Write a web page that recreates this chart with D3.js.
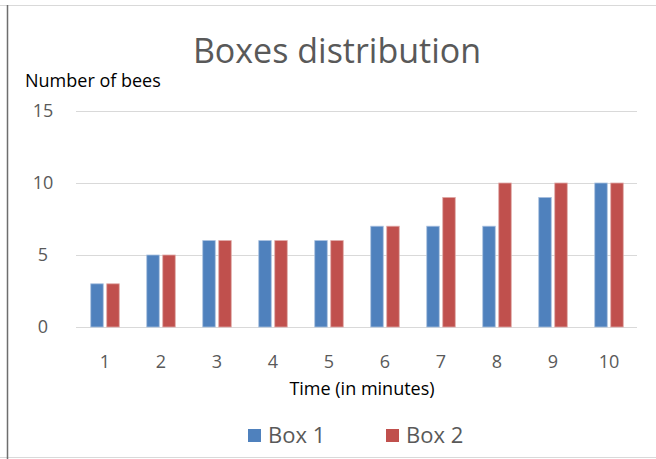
<!DOCTYPE html>
<html>
<head>
<meta charset="utf-8">
<script src="https://cdn.jsdelivr.net/npm/d3@7"></script>
<style>
  body { margin: 0; background: #fff; }
  svg { font-family: "Open Sans", "Liberation Sans", sans-serif; }
</style>
</head>
<body>
<svg id="chart" width="656" height="459"></svg>
<script>
var times = ["1", "2", "3", "4", "5", "6", "7", "8", "9", "10"]
var box1 = [3, 5, 6, 6, 6, 7, 7, 7, 9, 10]
var box2 = [3, 5, 6, 6, 6, 7, 9, 10, 10, 10]
var yTicks = [0, 5, 10, 15]
var seriesNames = ["Box 1", "Box 2"]
var colors = ["#4f81bd", "#c0504d"]

var svg = d3.select("svg"),
    margin = {top: 111, right: 19, bottom: 132, left: 76},
    width = 656 - margin.left - margin.right,
    height = 459 - margin.top - margin.bottom

// frame
svg.append("line").attr("x1", 0).attr("x2", 656).attr("y1", 5.5).attr("y2", 5.5)
  .attr("stroke", "#d9d9d9")
svg.append("line").attr("x1", 0).attr("x2", 656).attr("y1", 457.5).attr("y2", 457.5)
  .attr("stroke", "#d9d9d9")
svg.append("line").attr("x1", 7.5).attr("x2", 7.5).attr("y1", 5).attr("y2", 459)
  .attr("stroke", "#6e6e6e").attr("stroke-width", 1.5)

var g = svg.append("g").attr("transform", "translate(" + margin.left + "," + margin.top + ")")

var x = d3.scaleBand().domain(times).range([1, width]).paddingInner(0).paddingOuter(0)
var y = d3.scaleLinear().domain([0, 15]).range([height, 0])

// gridlines
g.append("g").selectAll("line").data(yTicks).enter().append("line")
  .attr("x1", 0).attr("x2", width)
  .attr("y1", function(d) { return Math.round(y(d)) + 0.5 })
  .attr("y2", function(d) { return Math.round(y(d)) + 0.5 })
  .attr("stroke", "#d9d9d9").attr("stroke-width", 1.2)

// y tick labels
g.append("g").selectAll("text").data(yTicks).enter().append("text")
  .attr("x", -33).attr("y", function(d) { return y(d) })
  .attr("dy", "0.35em").attr("text-anchor", "middle")
  .attr("fill", "#595959").style("font-size", "18px")
  .text(function(d) { return d })

// bars
var bw = 12.5, gap = 3.5
var series = [box1, box2]
series.forEach(function(vals, s) {
  g.append("g").selectAll("rect").data(vals).enter().append("rect")
    .attr("x", function(d, i) {
      var c = x(times[i]) + x.bandwidth() / 2
      return s == 0 ? c - gap / 2 - bw : c + gap / 2
    })
    .attr("y", function(d) { return y(d) })
    .attr("width", bw)
    .attr("height", function(d) { return height - y(d) })
    .attr("fill", colors[s])
    .attr("stroke", s == 0 ? "#a9c0df" : "#dfa9a7").attr("stroke-width", 0.8)
})

// x tick labels
g.append("g").selectAll("text").data(times).enter().append("text")
  .attr("x", function(d) { return x(d) + x.bandwidth() / 2 })
  .attr("y", height + 35).attr("dy", "0.35em").attr("text-anchor", "middle")
  .attr("fill", "#595959").style("font-size", "18px")
  .text(function(d) { return d })

// title and axis titles
svg.append("text").attr("x", 337).attr("y", 51).attr("dy", "0.35em")
  .attr("text-anchor", "middle").attr("fill", "#595959").style("font-size", "34px")
  .text("Boxes distribution")

svg.append("text").attr("x", 25).attr("y", 81).attr("dy", "0.35em")
  .attr("fill", "#000").style("font-size", "18px")
  .text("Number of bees")

svg.append("text").attr("x", 362).attr("y", 389).attr("dy", "0.35em")
  .attr("text-anchor", "middle").attr("fill", "#000").style("font-size", "18px")
  .text("Time (in minutes)")

// legend
var legend = svg.append("g").selectAll("g").data(seriesNames).enter().append("g")
  .attr("transform", function(d, i) { return "translate(" + (248 + i * 138) + ",435)" })
legend.append("rect").attr("x", 0).attr("y", -6).attr("width", 13).attr("height", 13)
  .attr("fill", function(d, i) { return colors[i] })
legend.append("text").attr("x", 20).attr("y", 0).attr("dy", "0.35em")
  .attr("fill", "#595959").style("font-size", "22px")
  .text(function(d) { return d })
</script>
</body>
</html>
